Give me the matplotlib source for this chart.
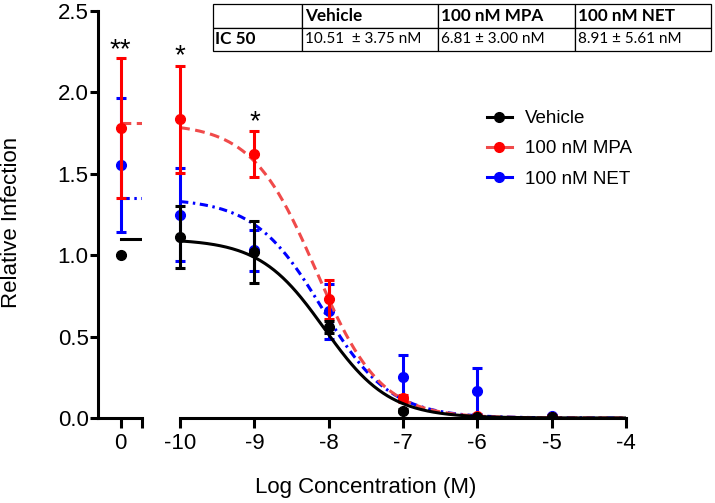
import matplotlib.pyplot as plt
from matplotlib.lines import Line2D
import numpy as np

plt.rcParams['font.family'] = ['Liberation Sans', 'DejaVu Sans']
plt.rcParams['axes.unicode_minus'] = False

# log doses (M) on the right segment, control (no drug) on the left segment
doses = [-10, -9, -8, -7, -6, -5]
series = ['Vehicle', '100 nM MPA', '100 nM NET']

ctrl_mean = [1.00, 1.78, 1.555]
ctrl_sem = [0.0, 0.43, 0.41]

vehicle_mean = [1.11, 1.02, 0.56, 0.045, 0.008, 0.005]
vehicle_sem = [0.19, 0.19, 0.035, 0.01, 0.005, 0.003]
mpa_mean = [1.835, 1.62, 0.73, 0.12, 0.01, 0.008]
mpa_sem = [0.33, 0.14, 0.12, 0.02, 0.005, 0.003]
net_mean = [1.25, 1.03, 0.655, 0.25, 0.165, 0.012]
net_sem = [0.285, 0.125, 0.17, 0.135, 0.14, 0.005]

# fitted dose-response parameters (top, logIC50, hill), bottom = 0
fit_top = [1.10, 1.81, 1.35]
fit_logic50 = [-8.06, -8.17, -8.09]
fit_hill = [1.0, 1.0, 0.95]

# significance marks: (segment, x, y, text)
stars = [('ctrl', 0, 2.26, '**'), ('dose', -10, 2.22, '*'), ('dose', -9, 1.82, '*')]

table_cols = ['', 'Vehicle', '100 nM MPA', '100 nM NET']
table_row = ['IC 50', '10.51  \u00b1 3.75 nM', '6.81 \u00b1 3.00 nM', '8.91 \u00b1 5.61 nM']

means = [vehicle_mean, mpa_mean, net_mean]
sems = [vehicle_sem, mpa_sem, net_sem]
dot_colors = ['black', '#ff0000', '#0000ff']
line_colors = ['black', '#f04a4a', '#0000ff']
line_styles = ['-', (0, (3.2, 1.8)), (0, (2.7, 1.5, 0.8, 1.5))]
zorders = [5, 4, 3]

lw = 2.2
fig = plt.figure(figsize=(7.15, 5.03), dpi=100)
ax0 = fig.add_axes([98/715, 85/503, 43.7/715, 407/503])
ax1 = fig.add_axes([157.8/715, 85/503, 468.2/715, 407/503])

x0lim = (-0.304, 0.286)
ax0.set_xlim(x0lim)
ax1.set_xlim(-10.3, -4)
for ax in (ax0, ax1):
    ax.set_ylim(0, 2.5)
    ax.patch.set_alpha(0)
    for s in ('top', 'right'):
        ax.spines[s].set_visible(False)
    ax.spines['bottom'].set_linewidth(lw)
    ax.spines['left'].set_linewidth(lw)
    ax.tick_params(axis='x', direction='out', length=7, width=lw, labelsize=16, pad=4)
    ax.tick_params(axis='y', direction='out', length=5.8, width=lw, labelsize=16, pad=1)

ax1.spines['left'].set_visible(False)
ax1.tick_params(axis='y', left=False, labelleft=False)
ax0.spines['bottom'].set_bounds(*x0lim)
ax1.spines['bottom'].set_bounds(-10, -4)
ax0.set_xticks([0, x0lim[1]])
ax0.set_xticklabels(['0', ''])
ax1.set_xticks(range(-10, -3))
ax0.set_yticks(np.arange(0, 2.51, 0.5))
ax0.set_yticklabels(['%.1f' % v for v in np.arange(0, 2.51, 0.5)])

xs = np.linspace(-10, -4, 300)
for i in range(3):
    # control segment
    ax0.errorbar([0], [ctrl_mean[i]], yerr=[ctrl_sem[i]], fmt='o', color=dot_colors[i],
                 ms=7, elinewidth=lw, capsize=3.6, capthick=lw, zorder=zorders[i])
    ax0.plot([0, x0lim[1]], [fit_top[i], fit_top[i]], color=line_colors[i], lw=lw,
             ls=line_styles[i], zorder=zorders[i] - 0.5)
    # dose segment
    ax1.errorbar(doses, means[i], yerr=sems[i], fmt='o', color=dot_colors[i],
                 ms=7, elinewidth=lw, capsize=3.6, capthick=lw, zorder=zorders[i])
    curve = fit_top[i] / (1 + 10 ** (fit_hill[i] * (xs - fit_logic50[i])))
    ax1.plot(xs, curve, color=line_colors[i], lw=lw, ls=line_styles[i],
             zorder=zorders[i] - 0.5)

for seg, x, y, txt in stars:
    ax = ax0 if seg == 'ctrl' else ax1
    ax.text(x, y, txt, ha='center', va='center', fontsize=20)

ax0.set_ylabel('Relative Infection', fontsize=16)
ax0.yaxis.set_label_coords(22/715, 1 - 222/503, transform=fig.transFigure)
fig.text(365.5/715, 1 - 488/503, 'Log Concentration (M)', fontsize=16,
         ha='center', va='center')

handles = [Line2D([], [], color=line_colors[i], lw=lw, marker='o', ms=7,
                  mfc=dot_colors[i], mec=dot_colors[i]) for i in range(3)]
fig.legend(handles, series, loc='upper left', bbox_to_anchor=(487/715, 1 - 110/503),
           bbox_transform=fig.transFigure, frameon=False, fontsize=13.5,
           handlelength=1.33, handletextpad=0.7, labelspacing=0.7,
           borderpad=0, borderaxespad=0)

# IC50 table
tax = fig.add_axes([213/715, 1 - 51/503, 498/715, 47/503])
tax.axis('off')
widths = np.array([89, 136, 137, 136]) / 498
tbl = tax.table(cellText=[table_cols, table_row], colWidths=widths,
                cellLoc='left', bbox=[0, 0, 1, 1])
tbl.auto_set_font_size(False)
for (r, c), cell in tbl.get_celld().items():
    cell.set_linewidth(0.9)
    cell.PAD = 0.025
    t = cell.get_text()
    t.set_family(['Lato', 'DejaVu Sans'])
    if r == 0 or c == 0:
        t.set_fontweight('bold')
        t.set_fontsize(12.3)
    else:
        t.set_fontsize(11)

fig.savefig('out.png', dpi=100)
